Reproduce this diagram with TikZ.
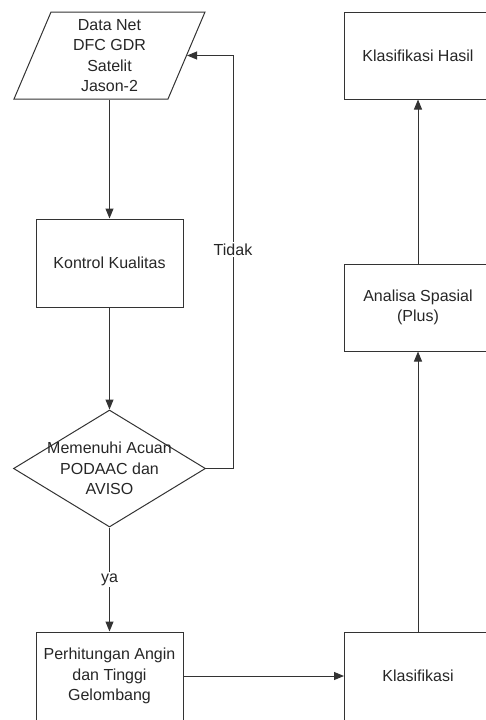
\documentclass[tikz,border=0pt]{standalone}
\usepackage{fontspec}
\setmainfont{Liberation Sans}
\usetikzlibrary{shapes.geometric,arrows.meta}
\tikzset{
  line/.style={draw=black!80,line width=1pt},
  box/.style={line,rectangle,minimum width=147pt,minimum height=88pt,align=center,inner sep=2pt},
  arr/.style={line,-{Triangle[length=10pt,width=8pt]}},
  lbl/.style={fill=white,inner sep=1.5pt},
}
\begin{document}
\begin{tikzpicture}[x=1pt,y=-1pt,font=\fontsize{16}{20.5}\selectfont,text=black!85]
        \useasboundingbox (0,0) rectangle (486,720);
        %% left column
        \node[line,trapezium,trapezium left angle=63,trapezium right angle=117,trapezium stretches body,
              minimum width=191pt,minimum height=87pt,align=center,inner sep=0pt] (data) at (109.5,55.5) {Data Net\\DFC GDR\\Satelit\\Jason-2};
        \node[box] (kontrol) at (109.5,263) {Kontrol Kualitas};
        \node[line,diamond,minimum width=192pt,minimum height=117pt,inner sep=0pt,
              label={[align=center]center:Memenuhi Acuan\\PODAAC dan\\AVISO}] (cek) at (109.5,468.5) {};
        \node[box] (hitung) at (109.5,676) {Perhitungan Angin\\dan Tinggi\\Gelombang};
        %% right column
        \node[box] (klas) at (418,676) {Klasifikasi};
        \node[box,minimum height=87pt] (analisa) at (418,307.5) {Analisa Spasial\\(Plus)};
        \node[box,minimum height=87pt] (hasil) at (418,55.5) {Klasifikasi Hasil};
        %% arrows
        \draw[arr] (data.south -| kontrol.north) -- (kontrol.north);
        \draw[arr] (kontrol.south) -- (cek.north);
        \draw[arr] (cek.south) -- node[lbl] {ya} (hitung.north);
        \draw[arr] (cek.east) -- ++(27,0) |- node[lbl,pos=0.265] {Tidak} (data.east);
        \draw[arr] (hitung.east) -- (klas.west);
        \draw[arr] (klas.north) -- (analisa.south);
        \draw[arr] (analisa.north) -- (hasil.south);
\end{tikzpicture}
\end{document}
